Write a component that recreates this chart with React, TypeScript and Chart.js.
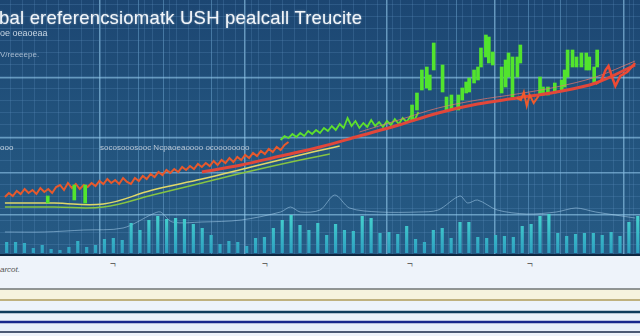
import React, { useEffect, useRef } from "react";
import { Chart, registerables } from "chart.js";

Chart.register(...registerables);

// ---------- texts ----------
const TITLE = "bal  ereferencsiomatk USH pealcall Treucite";
const SUB1 = "oe  oeaoeaa";
const SUB2 = "V/reeeepe.";
const SIDE_NOTE = "ooo";
const MID_NOTE = "socosooosooc Ncpaoeaoooo ocoooooooo";
const FOOT_NOTE = "arcot.";
const FOOT_TICKS = ["¬", "¬", "¬", "¬"];
const FOOT_TICK_DAYS = [113, 265, 410, 530];

// ---------- price data (x = day index 0..640) ----------
const ORANGE_START = 0;
const ORANGE_STEP = 4;
const orangePrices = [56, 60, 57, 62, 59, 64, 60, 63, 59, 65, 61, 64, 60, 66, 68, 63, 70, 65, 69, 64, 68, 66, 70, 67, 72, 69, 74, 70, 73, 69, 75, 71, 69, 75, 72, 77, 74, 79, 76, 81, 78, 83, 80, 84, 81, 86, 83, 87, 84, 89, 86, 90, 87, 92, 88, 93, 90, 95, 91, 96, 93, 98, 95, 100, 97, 102, 99, 104, 101, 106, 103, 108, 111];

const GREEN_START = 280;
const GREEN_STEP = 4;
const greenPrices = [113, 117, 115, 119, 116, 120, 117, 122, 119, 123, 120, 125, 122, 127, 123, 129, 125, 135, 127, 132, 125, 130, 126, 133, 127, 131, 126, 132, 128, 134, 129, 135, 131, 137, 133, 141];

const candleDays = [45, 72, 83, 415, 420, 425, 430, 433, 437, 446, 450, 455, 462, 466, 470, 473, 478, 482, 485, 490, 493, 497, 506, 510, 513, 517, 522, 525, 545, 548, 553, 560, 567, 570, 573, 578, 582, 587, 592, 595, 600, 603];
const candleLow = [50, 53, 50, 133, 143, 163, 165, 163, 183, 161, 143, 143, 143, 153, 160, 161, 170, 173, 186, 196, 190, 188, 160, 166, 176, 156, 176, 190, 158, 158, 158, 160, 163, 166, 176, 186, 186, 186, 183, 183, 170, 186];
const candleHigh = [57, 68, 68, 148, 160, 183, 186, 178, 210, 188, 156, 158, 158, 165, 171, 175, 183, 186, 205, 218, 216, 201, 186, 193, 200, 196, 196, 208, 176, 166, 166, 170, 173, 183, 203, 203, 196, 200, 200, 196, 186, 203];

const redMaDays = [200, 240, 280, 320, 360, 400, 440, 480, 520, 560, 600, 640];
const redMa = [81, 88, 97, 106, 117, 128, 140, 149, 155, 161, 170, 188];
const pinkMaDays = [360, 400, 440, 480, 520, 560, 600, 640];
const pinkMa = [121, 133, 145, 153, 159, 166, 176, 192];

const redJagADays = [520, 524, 527, 530, 533, 537, 542];
const redJagA = [155, 153, 161, 147, 158, 150, 157];
const redJagBDays = [600, 606, 610, 613, 617, 620, 625, 632, 640];
const redJagB = [169, 173, 183, 187, 175, 167, 177, 181, 190];

const yellowMaDays = [0, 50, 100, 150, 200, 250, 300, 340];
const yellowMa = [50, 50, 49, 63, 74, 86, 98, 107];
const greenMaDays = [0, 50, 100, 150, 200, 250, 300, 330];
const greenMa = [46, 46, 46, 58, 70, 82, 93, 99];

const outlineDays = [0, 40, 80, 120, 150, 158, 170, 200, 240, 280, 290, 300, 320, 335, 350, 380, 420, 440, 462, 470, 480, 500, 530, 560, 580, 600, 640];
const outline = [21, 21, 23, 25, 39, 41, 31, 31, 33, 41, 46, 41, 43, 58, 45, 41, 41, 43, 57, 50, 53, 43, 39, 41, 45, 41, 35];

const volume = [11, 11, 10, 5, 8, 4, 3, 6, 12, 6, 8, 14, 15, 13, 30, 23, 33, 37, 34, 35, 34, 29, 25, 18, 9, 12, 11, 7, 15, 16, 25, 33, 38, 28, 23, 30, 18, 29, 23, 22, 37, 35, 20, 21, 19, 27, 14, 11, 23, 25, 15, 31, 31, 16, 15, 18, 17, 16, 27, 29, 37, 39, 20, 17, 19, 20, 20, 18, 21, 17, 31, 37];

// ---------- bottom reference lines ----------
const lineDays = [0, 640];
const bandLevels = [47, 36, 24, 14, 4];
const bandColors = ["#6f7474", "#bfb17f", "#0d3a5c", "#16268c", "#4c5a74"];
const bandWidths = [1.5, 2, 2.5, 2.5, 2];
const bandFills = ["rgba(0,0,0,0)", "#f6f3de", "#edf3fb", "#e9f0fa", "#e6eef9"];

const xMajors = [97, 248, 392, 503, 632];
const xMids = [140, 167, 215, 462, 535, 565];
const yMajors = [38, 80, 115, 175];

const pts = (days: number[], vals: number[]) => vals.map((v, i) => ({ x: days[i], y: v }));
const stepPts = (start: number, step: number, vals: number[]) => vals.map((v, i) => ({ x: start + i * step, y: v }));

const bgPlugin = {
  id: "bgFill",
  beforeDraw(chart: any) {
    const { ctx, width, height } = chart;
    const g = ctx.createLinearGradient(0, 0, 0, height);
    g.addColorStop(0, "#1c4672");
    g.addColorStop(0.5, "#22537d");
    g.addColorStop(1, "#265a84");
    ctx.save();
    ctx.fillStyle = g;
    ctx.fillRect(0, 0, width, height);
    ctx.restore();
  },
};

const lineDs = (label: string, data: any[], color: string, width: number, order: number, tension = 0) => ({
  type: "line" as const,
  label,
  data,
  borderColor: color,
  borderWidth: width,
  pointRadius: 0,
  tension,
  order,
  xAxisID: "x",
  yAxisID: "y",
});

const gridColor = (kind: number) =>
  kind === 2 ? "rgba(150,205,238,0.6)" : kind === 1 ? "rgba(120,178,220,0.45)" : "rgba(95,145,195,0.26)";

export default function App() {
  const topRef = useRef<HTMLCanvasElement>(null);
  const botRef = useRef<HTMLCanvasElement>(null);

  useEffect(() => {
    const xKind = (v: number) => (xMajors.includes(v) ? 2 : xMids.includes(v) ? 1 : 0);
    const yKind = (v: number) => (yMajors.includes(v) ? 2 : 0);

    const top = new Chart(topRef.current as HTMLCanvasElement, {
      type: "bar",
      data: {
        datasets: [
          lineDs("outline", pts(outlineDays, outline), "rgba(165,205,235,0.55)", 1, 10, 0.3),
          {
            type: "bar",
            label: "volume",
            data: volume,
            xAxisID: "xv",
            yAxisID: "yv",
            order: 9,
            barPercentage: 0.72,
            categoryPercentage: 1,
            backgroundColor: (c: any) => {
              const { ctx, chartArea } = c.chart;
              if (!chartArea) return "#34bcc6";
              const g = ctx.createLinearGradient(0, chartArea.bottom - 45, 0, chartArea.bottom);
              g.addColorStop(0, "#48d8d0");
              g.addColorStop(1, "#2b9cc0");
              return g;
            },
          } as any,
          lineDs("ma-green", pts(greenMaDays, greenMa), "#86c443", 1.5, 8, 0.4),
          lineDs("ma-yellow", pts(yellowMaDays, yellowMa), "#e0d868", 1.5, 7, 0.4),
          lineDs("price", stepPts(ORANGE_START, ORANGE_STEP, orangePrices), "#e8592c", 2, 6),
          lineDs("price-up", stepPts(GREEN_START, GREEN_STEP, greenPrices), "#5ee02c", 1.8, 5),
          {
            type: "bar",
            label: "candles",
            data: candleDays.map((d, i) => ({ x: d, y: [candleLow[i], candleHigh[i]] })),
            xAxisID: "x",
            yAxisID: "y",
            order: 4,
            barThickness: 3,
            backgroundColor: "#52e42e",
          } as any,
          lineDs("ma-pink", pts(pinkMaDays, pinkMa), "rgba(235,120,110,0.7)", 1, 3, 0.35),
          lineDs("ma-red", pts(redMaDays, redMa), "#e1473a", 3, 3, 0.35),
          lineDs("jag-a", pts(redJagADays, redJagA), "#ef5a2c", 2, 2),
          lineDs("jag-b", pts(redJagBDays, redJagB), "#ee4a34", 2.5, 2),
        ],
      },
      options: {
        responsive: false,
        animation: false,
        events: [],
        layout: { padding: 0, autoPadding: false },
        plugins: { legend: { display: false }, tooltip: { enabled: false }, title: { display: false } },
        scales: {
          x: {
            type: "linear",
            min: 0,
            max: 640,
            ticks: { display: false },
            afterBuildTicks: (s: any) => {
              const t: number[] = [];
              for (let v = 0; v <= 640; v += 12) t.push(v);
              xMajors.concat(xMids).forEach((v) => t.push(v));
              t.sort((a, b) => a - b);
              s.ticks = t.map((v) => ({ value: v }));
            },
            grid: {
              drawTicks: false,
              color: (c: any) => gridColor(xKind(c.tick?.value)),
              lineWidth: (c: any) => (xKind(c.tick?.value) === 2 ? 1.5 : 1),
            },
            border: { display: true, color: "#0e2740", width: 4 },
          },
          xv: {
            type: "category",
            labels: volume.map((_, i) => String(i)),
            display: false,
            offset: true,
          },
          y: {
            type: "linear",
            min: -3,
            max: 253,
            ticks: { display: false },
            afterBuildTicks: (s: any) => {
              const t: number[] = [];
              for (let v = -3; v <= 253; v += 12) t.push(v);
              yMajors.forEach((v) => t.push(v));
              t.sort((a, b) => a - b);
              s.ticks = t.map((v) => ({ value: v }));
            },
            grid: {
              drawTicks: false,
              color: (c: any) => gridColor(yKind(c.tick?.value)),
              lineWidth: (c: any) => (yKind(c.tick?.value) === 2 ? 1.5 : 1),
            },
            border: { display: false },
          },
          yv: { type: "linear", min: -3, max: 253, display: false },
        },
      } as any,
      plugins: [bgPlugin],
    });

    const bot = new Chart(botRef.current as HTMLCanvasElement, {
      type: "line",
      data: {
        datasets: bandLevels.map((v, i) => ({
          label: "band" + i,
          data: pts(lineDays, [v, v]),
          borderColor: bandColors[i],
          borderWidth: bandWidths[i],
          pointRadius: 0,
          fill: i === 0 ? false : "-1",
          backgroundColor: bandFills[i],
        })),
      },
      options: {
        responsive: false,
        animation: false,
        events: [],
        layout: { padding: 0, autoPadding: false },
        plugins: { legend: { display: false }, tooltip: { enabled: false }, filler: { propagate: false } },
        scales: {
          x: { type: "linear", min: 0, max: 640, display: false },
          y: { type: "linear", min: 0, max: 60, display: false },
        },
      } as any,
    });

    return () => {
      top.destroy();
      bot.destroy();
    };
  }, []);

  const small: React.CSSProperties = {
    position: "absolute",
    fontFamily: "'Liberation Sans', Arial, sans-serif",
    color: "#c6d4e2",
    whiteSpace: "nowrap",
    lineHeight: 1,
  };

  return (
    <div
      style={{
        position: "absolute",
        left: 0,
        top: 0,
        width: 640,
        height: 336,
        overflow: "hidden",
        background: "linear-gradient(#ffffff 0px, #ffffff 20px, #eef3fa 80px)",
      }}
    >
      <canvas ref={topRef} width={640} height={256} style={{ position: "absolute", left: 0, top: 0, display: "block" }} />
      <canvas ref={botRef} width={640} height={60} style={{ position: "absolute", left: 0, top: 276, display: "block" }} />
      <div
        style={{
          ...small,
          left: -1,
          top: 9,
          fontSize: 18.5,
          letterSpacing: 0.2,
          color: "#f2f6fa",
          textShadow: "0 0 2px rgba(255,255,255,0.5)",
        }}
      >
        {TITLE}
      </div>
      <div style={{ ...small, left: 0, top: 29, fontSize: 9 }}>{SUB1}</div>
      <div style={{ ...small, left: 0, top: 51, fontSize: 8, color: "#a9bdd2" }}>{SUB2}</div>
      <div style={{ ...small, left: 0, top: 144, fontSize: 8 }}>{SIDE_NOTE}</div>
      <div style={{ ...small, left: 100, top: 144, fontSize: 8, color: "#b9c7d6" }}>{MID_NOTE}</div>
      {FOOT_TICKS.map((t, i) => (
        <div key={i} style={{ ...small, left: FOOT_TICK_DAYS[i] - 3, top: 259, fontSize: 10, color: "#666" }}>
          {t}
        </div>
      ))}
      <div style={{ ...small, left: 0, top: 266, fontSize: 8, color: "#555", fontStyle: "italic" }}>{FOOT_NOTE}</div>
    </div>
  );
}
